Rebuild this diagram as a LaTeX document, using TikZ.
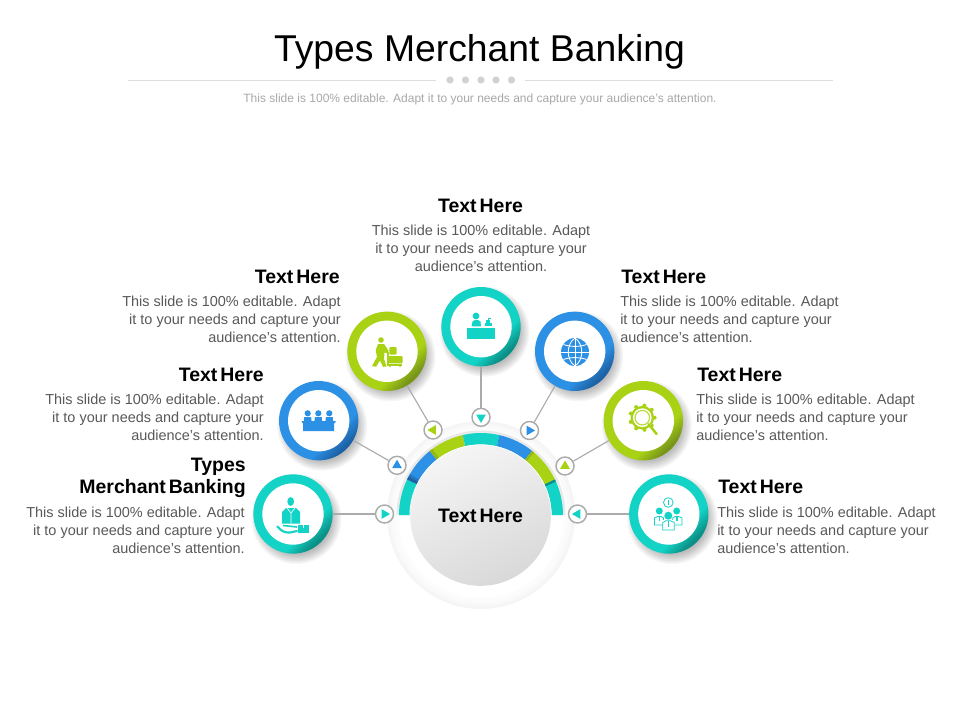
\documentclass[tikz,border=0pt]{standalone}
\usepackage{fontspec}
\setmainfont{Liberation Sans}
\newfontfamily\headfont[WordSpace=0.55]{Liberation Sans}
\usetikzlibrary{calc}
\definecolor{tealm}{HTML}{12D3C5}
\definecolor{teald}{HTML}{0C8F86}
\definecolor{bluem}{HTML}{2C90E4}
\definecolor{blued}{HTML}{1E62A6}
\definecolor{greenm}{HTML}{A9D214}
\definecolor{greend}{HTML}{78951A}
\definecolor{bodygray}{HTML}{595959}
\definecolor{subgray}{HTML}{A8A8A8}
\definecolor{rulegray}{HTML}{DDDDDD}
\definecolor{dotgray}{HTML}{D2D2D2}
\definecolor{wiregray}{HTML}{ABABAB}
\pgfdeclareverticalshading{ringteal}{100bp}{color(0bp)=(teald);color(27bp)=(teald);color(37bp)=(tealm);color(100bp)=(tealm)}
\pgfdeclareverticalshading{ringblue}{100bp}{color(0bp)=(blued);color(27bp)=(blued);color(37bp)=(bluem);color(100bp)=(bluem)}
\pgfdeclareverticalshading{ringgreen}{100bp}{color(0bp)=(greend);color(27bp)=(greend);color(37bp)=(greenm);color(100bp)=(greenm)}
\tikzset{
  ringnode/.style={circle,draw=none,inner sep=0pt,minimum size=59.5pt,shading=#1,shading angle=45},
  disc/.style={circle,fill=white,draw=none,inner sep=0pt,minimum size=46pt},
  port/.style={circle,fill=white,draw=wiregray,line width=1.1pt,inner sep=0pt,minimum size=13.5pt},
  wire/.style={draw=wiregray,line width=.85pt},
  headl/.style={inner sep=0pt,font=\fontsize{14.6pt}{17pt}\headfont\bfseries\selectfont,text=black},
  bodyt/.style={inner sep=0pt,font=\fontsize{10.85pt}{13.35pt}\selectfont,text=bodygray},
}
\newcommand{\softshadow}[2]{%
  \foreach \r in {36,37.5,...,45}{\fill[black,opacity=.04] ($(#1,#2)+(3.5,5)$) circle[radius=\r];}}
\newcommand{\tri}[4]{\fill[#4] ($(#1)+(#3:5.6)$) -- ($(#1)+(#3+120:5.6)$) -- ($(#1)+(#3+240:5.6)$) -- cycle;}
\newcommand{\seg}[3]{\fill[#3] (#1:70.6) -- (#1:82) arc[start angle=#1,end angle=#2,radius=82] -- (#2:70.6) arc[start angle=#2,end angle=#1,radius=70.6] -- cycle;}
\begin{document}
\begin{tikzpicture}[x=.75pt,y=-.75pt]
\useasboundingbox (0,0) rectangle (960,720);
\fill[white] (0,0) rectangle (960,720);
% header
\node[inner sep=0pt,font=\fontsize{28pt}{30pt}\selectfont] (title) at (479.5,51.5) {Types Merchant Banking};
\coordinate (ra) at (128,80.5); \coordinate (rb) at (436,80.5);
\coordinate (rc) at (525,80.5); \coordinate (rd) at (833,80.5);
\draw[rulegray,line width=.7pt] (ra) -- (rb);
\draw[rulegray,line width=.7pt] (rc) -- (rd);
\foreach \x in {450,465.5,481,496,511.5}{\fill[dotgray] (\x,80) circle[radius=3.6];}
\node[inner sep=0pt,text=subgray,font=\fontsize{9pt}{11pt}\selectfont] (sub) at (480,99) {This slide is 100\% editable. Adapt it to your needs and capture your audience's attention.};
% halo and ring
\fill[black!4] (481,515) circle[radius=94];
\fill[black!3] (481,515) circle[radius=92];
\fill[black!2] (481,515) circle[radius=90];
\fill[black!1] (481,515) circle[radius=87];
\fill[white] (481,515) circle[radius=83];
\begin{scope}[shift={(481,515)},y=.75pt]
  \fill[black,opacity=.08] (180:84.5) arc[start angle=180,end angle=0,radius=84.5] -- cycle;
  \fill[white] (180:76) arc[start angle=180,end angle=0,radius=76] -- cycle;
  \seg{180}{154.3}{tealm}
  \seg{154.3}{128.6}{bluem}
  \seg{128.6}{102.9}{greenm}
  \seg{102.9}{77.1}{tealm}
  \seg{77.1}{51.4}{bluem}
  \seg{51.4}{25.7}{greenm}
  \seg{25.7}{0}{tealm}
  \seg{154.3}{151.8}{blued}
  \seg{151.8}{150}{bluem!50!blued}
  \seg{128.6}{126.4}{greenm!55!greend}
  \seg{51.4}{49.8}{greenm!55!greend}
  \seg{25.7}{24}{teald}
\end{scope}
\node[circle,inner sep=0pt,minimum size=106.5pt,fill=white] (hubedge) at (480.5,515.5) {};
\node[circle,inner sep=0pt,minimum size=105.5pt,shading=axis,top color=black!4,bottom color=black!15,shading angle=25,font=\fontsize{14.6pt}{17pt}\headfont\bfseries\selectfont] (hub) at (480.5,515.5) {Text Here};
% shadows
\softshadow{293}{514}\softshadow{318.7}{420.7}\softshadow{387}{351.3}\softshadow{481}{326.7}\softshadow{574.7}{351.3}\softshadow{643.3}{420.7}\softshadow{668.8}{514}
% rings
\node[ringnode=ringteal] (r1) at (293,514) {};
\node[ringnode=ringblue] (r2) at (318.7,420.7) {};
\node[ringnode=ringgreen] (r3) at (387,351.3) {};
\node[ringnode=ringteal] (r4) at (481,326.7) {};
\node[ringnode=ringblue] (r5) at (574.7,351.3) {};
\node[ringnode=ringgreen] (r6) at (643.3,420.7) {};
\node[ringnode=ringteal] (r7) at (668.8,514) {};
\foreach \i in {1,...,7}{\node[disc] (w\i) at (r\i) {};}
% ports
\node[port] (p1) at (384.5,514) {};
\node[port] (p2) at (397,465.3) {};
\node[port] (p3) at (433,430) {};
\node[port] (p4) at (481,417.3) {};
\node[port] (p5) at (529.5,430.5) {};
\node[port] (p6) at (565,466) {};
\node[port] (p7) at (577.5,514) {};
\foreach \i in {1,...,7}{\draw[wire] (r\i) -- (p\i);}
\tri{p1}{}{0}{tealm}
\tri{p2}{}{-90}{bluem}
\tri{p3}{}{180}{greenm}
\tri{p4}{}{90}{tealm}
\tri{p5}{}{0}{bluem}
\tri{p6}{}{-90}{greenm}
\tri{p7}{}{180}{tealm}
% icon 1: person with box on hand
\fill[tealm] (290.7,501.5) ellipse[x radius=3.4,y radius=4.4];
\fill[tealm] (282,523.5) -- (282,512) -- (286,508) -- (296,508) -- (300,512) -- (300,523.5) -- cycle;
\draw[white,line width=.5pt] (287,508) -- (291,513) -- (295,508) (291,513) -- (291,523.5);
\draw[tealm,line width=1.6pt,line cap=round] (277.5,526.5) .. controls (281,531) and (285,533) .. (290,532.5) -- (297,531);
\draw[tealm,line width=1.2pt] (283,525.5) -- (297,527);
\fill[tealm] (297.5,524.5) rectangle (309,533.3);
\draw[white,line width=.4pt] (303,524.5) -- (303,528);
% icon 2: three people at a table
\foreach \x in {307.7,318.3,329.3}{\fill[bluem] (\x,413.3) circle[radius=3.1]; \fill[bluem] (\x-4,422) -- (\x-3.4,417) -- (\x+3.4,417) -- (\x+4,422) -- cycle;}
\fill[bluem] (301.7,421) -- (335.7,421) -- (335.2,423) -- (334,423) -- (334,431) -- (303.2,431) -- (303.2,423) -- (302.2,423) -- cycle;
% icon 3: worker with cart
\fill[greenm] (381,340) circle[radius=2.8];
\fill[greenm] (378,344) -- (384,344) -- (388.5,350.5) -- (388,353.5) -- (384.5,352.5) -- (384,359) -- (386.5,366.5) -- (383,366.8) -- (380,360.5) -- (376,366.8) -- (372,366) -- (377,357) -- (375.7,350) -- cycle;
\fill[greenm,rounded corners=.8pt] (389.3,347) rectangle (396.7,354.5);
\fill[greenm,rounded corners=.8pt] (388.5,356) rectangle (402.7,363.3);
\draw[greenm,line width=.9pt] (388,352) -- (388,365) -- (402,365);
\fill[greenm] (390,366) circle[radius=1.1] (400,366) circle[radius=1.1];
% icon 4: person at a desk
\fill[tealm] (466.7,327.5) rectangle (495,339);
\fill[tealm] (476,316) circle[radius=3.4];
\fill[tealm] (471.6,326.3) -- (472.5,321.5) -- (475,320) -- (478,320) -- (480.5,321.5) -- (481,326.3) -- cycle;
\fill[tealm] (484.5,326.3) rectangle (491.5,322.5);
\fill[tealm] (486,322.5) rectangle (490,320);
\draw[tealm,line width=.7pt] (488,320) -- (488,318.5) -- (490.5,318.5);
% icon 5: globe
\fill[bluem] (575,352) circle[radius=14];
\draw[white,line width=.65pt] (561,352) -- (589,352) (575,338) -- (575,366);
\draw[white,line width=.65pt] (575,338) .. controls (566,344) and (566,360) .. (575,366);
\draw[white,line width=.65pt] (575,338) .. controls (584,344) and (584,360) .. (575,366);
\draw[white,line width=.65pt] (563.5,344.5) .. controls (570,347) and (580,347) .. (586.5,344.5);
\draw[white,line width=.65pt] (563.5,359.5) .. controls (570,357) and (580,357) .. (586.5,359.5);
% icon 6: gear with magnifier
\foreach \a in {0,40,...,320}{\fill[greenm] ($(642.3,417.7)+(\a:12.3)$) circle[radius=2];}
\fill[greenm] (642.3,417.7) circle[radius=11.8];
\fill[white] (642.3,417.7) circle[radius=9.4];
\draw[greenm!80!white,line width=.9pt] (642.3,417.7) circle[radius=7.3];
\fill[white] (649,424.5) circle[radius=1.8];
\draw[greenm,line width=1.9pt,line cap=round] (648.6,424.2) -- (656.6,434);
% icon 7: group of people
\draw[tealm,line width=.6pt] (668.3,502.5) circle[radius=4.8];
\draw[tealm,line width=.7pt] (668.3,499.8) -- (668.3,505.2);
\draw[tealm,line width=.6pt] (654.5,525) -- (654.5,518) -- (658,516.5) -- (661,516.5) -- (663.5,518) -- (663.5,525) -- cycle;
\draw[tealm,line width=.6pt] (672.7,525) -- (672.7,518) -- (675.5,516.5) -- (678.5,516.5) -- (682,518) -- (682,525) -- cycle;
\fill[white] (662.5,520) rectangle (674.5,530.5);
\draw[tealm,line width=.6pt] (662.7,530) -- (662.7,522.5) -- (666,520.8) -- (670.5,520.8) -- (674.3,522.5) -- (674.3,530) -- cycle;
\fill[tealm] (659.3,511) circle[radius=3.5] (676.7,511) circle[radius=3.5] (668.3,515.7) circle[radius=4];
\draw[tealm,line width=1pt] (659.3,516) -- (659.3,521) (677,516) -- (677,521) (668.4,521) -- (668.4,527);
% texts
\node[headl,anchor=north] (h4) at (480.5,198.5) {Text Here};
\node[bodyt,anchor=north,align=center] (b4) at (481,225) {This slide is 100\% editable. Adapt\\it to your needs and capture your\\audience's attention.};
\node[headl,anchor=north east] (h3) at (340,269.5) {Text Here};
\node[bodyt,anchor=north east,align=right] (b3) at (341,296) {This slide is 100\% editable. Adapt\\it to your needs and capture your\\audience's attention.};
\node[headl,anchor=north east] (h2) at (264,367.5) {Text Here};
\node[bodyt,anchor=north east,align=right] (b2) at (264,394) {This slide is 100\% editable. Adapt\\it to your needs and capture your\\audience's attention.};
\node[headl,anchor=north east,align=right] (h1) at (246,457.5) {Types\hspace*{0pt}\\Merchant Banking};
\node[bodyt,anchor=north east,align=right] (b1) at (245,507) {This slide is 100\% editable. Adapt\\it to your needs and capture your\\audience's attention.};
\node[headl,anchor=north west] (h5) at (621,269.5) {Text Here};
\node[bodyt,anchor=north west,align=left] (b5) at (620,296) {This slide is 100\% editable. Adapt\\it to your needs and capture your\\audience's attention.};
\node[headl,anchor=north west] (h6) at (697,367.5) {Text Here};
\node[bodyt,anchor=north west,align=left] (b6) at (696,394) {This slide is 100\% editable. Adapt\\it to your needs and capture your\\audience's attention.};
\node[headl,anchor=north west] (h7) at (718,479.5) {Text Here};
\node[bodyt,anchor=north west,align=left] (b7) at (717,507) {This slide is 100\% editable. Adapt\\it to your needs and capture your\\audience's attention.};
\end{tikzpicture}
\end{document}
